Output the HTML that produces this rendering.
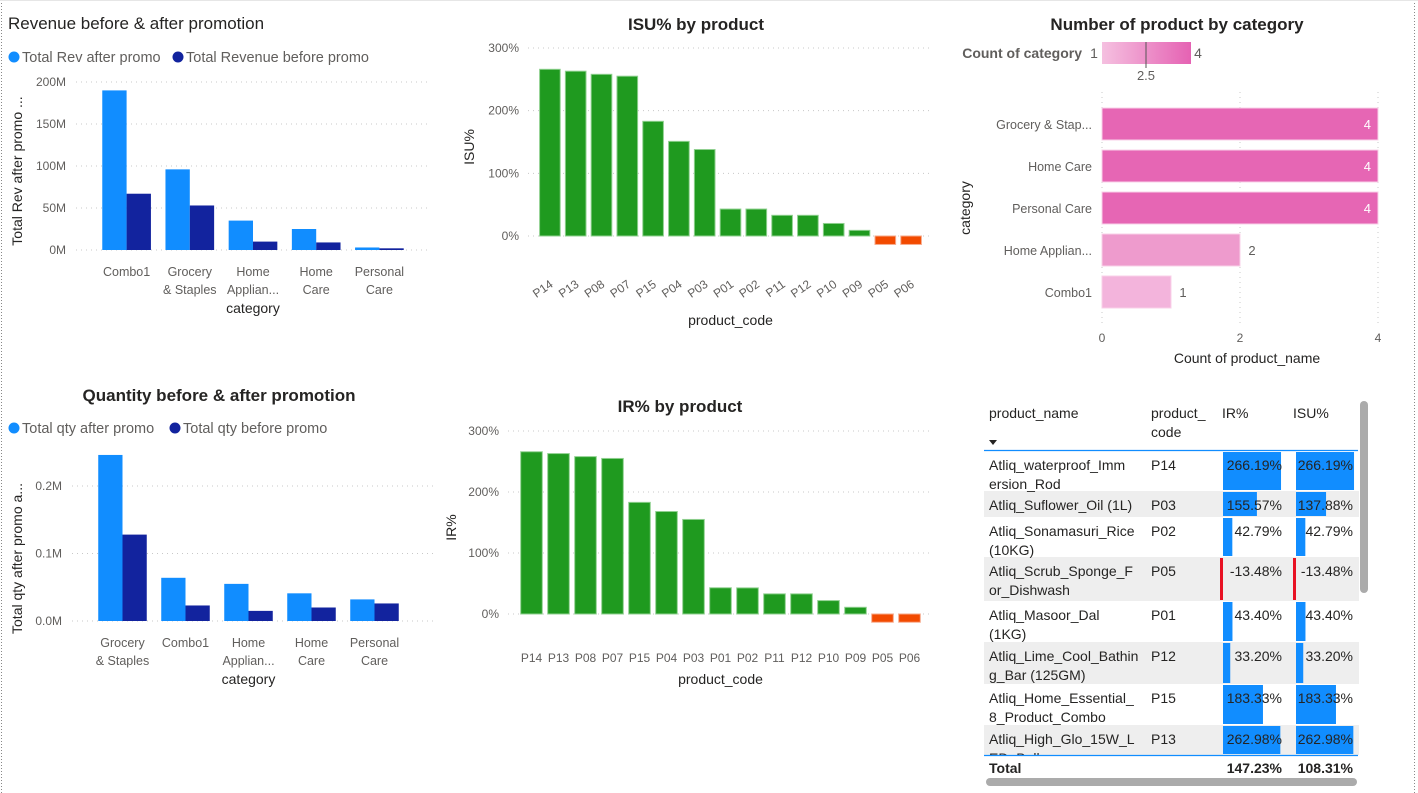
<!DOCTYPE html>
<html><head><meta charset="utf-8">
<style>
html,body{margin:0;padding:0;background:#fff;}
svg{display:block;font-family:"Liberation Sans",sans-serif;}
</style></head>
<body>
<svg id="s" width="1418" height="793" viewBox="0 0 1418 793" xmlns="http://www.w3.org/2000/svg">
<rect x="0" y="0" width="1418" height="793" fill="#fff"/>
<line x1="1.5" y1="0" x2="1.5" y2="793" stroke="#888" stroke-dasharray="1,2"/>
<line x1="1414.5" y1="0" x2="1414.5" y2="793" stroke="#888" stroke-dasharray="1,2"/>
<line x1="0" y1="0.5" x2="1418" y2="0.5" stroke="#e6e6e6"/>
<g id="g"></g>
</svg>
<script>
// ---- data ----
const revCats = ["Combo1","Grocery|& Staples","Home|Applian...","Home|Care","Personal|Care"];
const revAfter = [190, 96, 35, 25, 3];
const revBefore = [67, 53, 10, 9, 2];
const revTicks = [0,50,100,150,200];

const qtyCats = ["Grocery|& Staples","Combo1","Home|Applian...","Home|Care","Personal|Care"];
const qtyAfter = [0.246, 0.064, 0.055, 0.041, 0.032];
const qtyBefore = [0.128, 0.023, 0.015, 0.020, 0.026];
const qtyTicks = [0, 0.1, 0.2];

const isuCodes = ["P14","P13","P08","P07","P15","P04","P03","P01","P02","P11","P12","P10","P09","P05","P06"];
const isuVals = [266, 263, 258, 255, 183, 151, 138, 43, 43, 33, 33, 20, 9, -13.5, -13.5];
const irCodes = ["P14","P13","P08","P07","P15","P04","P03","P01","P02","P11","P12","P10","P09","P05","P06"];
const irVals = [266, 263, 258, 255, 183, 168, 155, 43, 42.8, 33, 33, 22, 11, -13.5, -13.5];
const pctTicks = [0,100,200,300];

const cntCats = ["Grocery & Stap...","Home Care","Personal Care","Home Applian...","Combo1"];
const cntVals = [4,4,4,2,1];
const cntTicks = [0,2,4];

const tblNames = [["Atliq_waterproof_Imm","ersion_Rod"],["Atliq_Suflower_Oil (1L)"],["Atliq_Sonamasuri_Rice","(10KG)"],["Atliq_Scrub_Sponge_F","or_Dishwash"],["Atliq_Masoor_Dal","(1KG)"],["Atliq_Lime_Cool_Bathin","g_Bar (125GM)"],["Atliq_Home_Essential_","8_Product_Combo"],["Atliq_High_Glo_15W_L","ED_Bulb"]];
const tblCodes = ["P14","P03","P02","P05","P01","P12","P15","P13"];
const tblIR = [266.19, 155.57, 42.79, -13.48, 43.40, 33.20, 183.33, 262.98];
const tblISU = [266.19, 137.88, 42.79, -13.48, 43.40, 33.20, 183.33, 262.98];
const tblTotals = ["147.23%","108.31%"];

// ---- helpers ----
const NS="http://www.w3.org/2000/svg";
const G=document.getElementById('g');
function mk(tag,attrs,parent){const e=document.createElementNS(NS,tag);for(const k in attrs)e.setAttribute(k,attrs[k]);(parent||G).appendChild(e);return e;}
function txt(x,y,s,size,fill,anchor,weight,parent){const t=mk('text',{x:x,y:y,'font-size':size,fill:fill,'text-anchor':anchor||'start','font-weight':weight||'normal'},parent);t.textContent=s;return t;}
function grid(x1,x2,y,parent){mk('line',{x1:x1,x2:x2,y1:y,y2:y,stroke:'#c8c8c8','stroke-dasharray':'1,4'},parent);}

// ---- clustered column chart ----
function clustered(o){
  const g=mk('g',{});
  
  
  const y=v=>o.y0-(v/o.max)*(o.y0-o.yTop);
  let t=txt(o.titleX,o.titleY,o.title,17,'#252423',o.titleAnchor||'start',o.titleWeight||'normal',g);
  
  let lx=o.legX;
  o.legend.forEach((l,i)=>{
    const c=mk('circle',{cx:lx+6,cy:o.legY-5,r:5.5,fill:l.c},g);
    
    const tt=txt(lx+14,o.legY,l.t,14.5,'#605e5c','start','normal',g);
    
    lx+=14+l.w;
  });
  o.ticks.forEach((v,i)=>{grid(o.gx0,o.gx1,y(v),g);const tl=txt(o.gx0-10,y(v)+4,o.tickLabels[i],12,'#605e5c','end','normal',g);});
  const step=(o.x1-o.x0)/o.cats.length;
  const bw=step*0.385;
  o.cats.forEach((c,i)=>{
    const cx=o.x0+step*(i+0.5);
    const b1=mk('rect',{x:cx-bw,y:y(o.a[i]),width:bw,height:o.y0-y(o.a[i]),fill:'#118dff'},g);
    
    const b2=mk('rect',{x:cx,y:y(o.b[i]),width:bw,height:o.y0-y(o.b[i]),fill:'#12239e'},g);
    
    c.split('|').forEach((ln,j)=>{const tl=txt(cx,o.y0+26+j*18,ln,12.5,'#605e5c','middle','normal',g);});
  });
  const xt=txt((o.x0+o.x1)/2,o.y0+63,'category',14,'#252423','middle','normal',g);
  
  const yt=txt(0,0,o.yTitle,14,'#252423','middle','normal',g);
  yt.setAttribute('transform','translate('+(o.yTitleX)+','+((o.yTop+o.y0)/2+5)+') rotate(-90)');
  
}
clustered({name:'revenue-chart',title:'Revenue before & after promotion',titleX:8,titleY:29,
  legX:8,legY:62,legend:[{t:'Total Rev after promo',c:'#118dff',w:150},{t:'Total Revenue before promo',c:'#12239e',w:190}],
  cats:revCats,a:revAfter,b:revBefore,max:200,ticks:revTicks,tickLabels:revTicks.map(v=>v+'M'),
  x0:95,x1:411,gx0:76,gx1:431,y0:250,yTop:82,yTitle:'Total Rev after promo ...',yTitleX:22});
clustered({name:'quantity-chart',title:'Quantity before & after promotion',titleX:219,titleY:401,titleAnchor:'middle',titleWeight:'bold',
  legX:8,legY:433,legend:[{t:'Total qty after promo',c:'#118dff',w:147},{t:'Total qty before promo',c:'#12239e',w:160}],
  cats:qtyCats,a:qtyAfter,b:qtyBefore,max:0.2,ticks:qtyTicks,tickLabels:['0.0M','0.1M','0.2M'],
  x0:91,x1:406,gx0:72,gx1:434,y0:621,yTop:486,yTitle:'Total qty after promo a...',yTitleX:22});

// ---- percent column chart ----
function pctChart(o){
  const g=mk('g',{});
  
  
  const y=v=>o.y0-(v/300)*(o.y0-o.yTop);
  const t=txt(o.titleX,o.titleY,o.title,17,'#252423','middle','bold',g);
  
  pctTicks.forEach(v=>{grid(o.gx0,o.gx1,y(v),g);const tl=txt(o.gx0-9,y(v)+4,v+'%',12,'#605e5c','end','normal',g);});
  const step=(o.x1-o.x0)/o.codes.length;
  const bw=step*0.8;
  o.codes.forEach((c,i)=>{
    const v=o.vals[i];const cx=o.x0+step*(i+0.5);
    const top=Math.min(y(v),o.y0),h=Math.abs(y(v)-o.y0);
    const b=mk('rect',{x:cx-bw/2,y:top,width:bw,height:h,fill:v<0?'#f24a00':'#1f9a1f',stroke:v<0?'#f7a98a':'#8fd08f','stroke-width':1},g);
    
    let tl;
    if(o.rot){tl=txt(0,0,c,12,'#605e5c','end','normal',g);tl.setAttribute('transform','translate('+(cx+4)+','+(o.y0+50)+') rotate(-35)');}
    else tl=txt(cx,o.y0+48,c,12,'#605e5c','middle','normal',g);
    
  });
  const xt=txt((o.x0+o.x1)/2,o.xTitleY,'product_code',14,'#252423','middle','normal',g);
  
  const yt=txt(0,0,o.yTitle,14,'#252423','middle','normal',g);
  yt.setAttribute('transform','translate('+o.yTitleX+','+((o.yTop+o.y0)/2+5)+') rotate(-90)');
  
}
pctChart({name:'isu-chart',title:'ISU% by product',titleX:696,titleY:30,codes:isuCodes,vals:isuVals,
  x0:537,x1:924,y0:236,yTop:48,gx0:528,gx1:930,rot:true,xTitleY:325,yTitle:'ISU%',yTitleX:474});
pctChart({name:'ir-chart',title:'IR% by product',titleX:680,titleY:412,codes:irCodes,vals:irVals,
  x0:518,x1:923,y0:614,yTop:431,gx0:508,gx1:930,rot:false,xTitleY:684,yTitle:'IR%',yTitleX:456});

// ---- count bar chart ----
(function(){
  const g=mk('g',{});
  
  
  const x0=1102,x1=1378;const x=v=>x0+(v/4)*(x1-x0);
  const t=txt(1177,30,'Number of product by category',17,'#252423','middle','bold',g);
  
  const d=mk('defs',{},g);const lg=mk('linearGradient',{id:'pg',x1:0,x2:1,y1:0,y2:0},d);
  mk('stop',{offset:0,'stop-color':'#f5c0e0'},lg);mk('stop',{offset:1,'stop-color':'#e562b3'},lg);
  let tt=txt(1082,58,'Count of category',14,'#605e5c','end','bold',g);
  tt=txt(1094,58,'1',14,'#605e5c','middle','normal',g);
  const r=mk('rect',{x:1102,y:42,width:89,height:22,fill:'url(#pg)'},g);
  mk('line',{x1:1146,x2:1146,y1:42,y2:68,stroke:'#555','stroke-width':1},g);
  tt=txt(1198,58,'4',14,'#605e5c','middle','normal',g);
  tt=txt(1146,80,'2.5',13,'#605e5c','middle','normal',g);
  cntTicks.forEach(v=>{mk('line',{x1:x(v),x2:x(v),y1:92,y2:325,stroke:'#c8c8c8','stroke-dasharray':'1,4'},g);const tl=txt(x(v),342,String(v),12,'#605e5c','middle','normal',g);});
  const cols={4:'#e666b4',2:'#ee9bcd',1:'#f3b4dc'};
  cntCats.forEach((c,i)=>{
    const cy=124+i*42;const v=cntVals[i];
    const b=mk('rect',{x:x0,y:cy-16,width:x(v)-x0,height:32,fill:cols[v]||'#ee9bcd',stroke:'#f8d0e8','stroke-width':1},g);
    
    const l=txt(x0-10,cy+5,c,12.5,'#605e5c','end','normal',g);
    let vl;
    if(v>=4) vl=txt(x(v)-7,cy+5,String(v),13,'#fff','end','normal',g);
    else vl=txt(x(v)+12,cy+5,String(v),13,'#605e5c','middle','normal',g);
    
  });
  let yt=txt(0,0,'category',14,'#252423','middle','normal',g);yt.setAttribute('transform','translate(970,208) rotate(-90)');
  yt=txt(1247,363,'Count of product_name',14,'#252423','middle','normal',g);
})();

// ---- table ----
(function(){
  const g=mk('g',{});
  
  
  const rowTops=[451,491,517,557,601,642,684,725,755];
  const sx=0.218;
  const hd=[['product_name',989,418],['product_',1151,418],['code',1151,437],['IR%',1222,418],['ISU%',1293,418]];
  hd.forEach(h=>{const t=txt(h[1],h[2],h[0],14,'#252423','start','normal',g);});
  mk('path',{d:'M989 440 L997 440 L993 445 Z',fill:'#252423'},g);
  const clip=mk('clipPath',{id:'tc'},g);mk('rect',{x:984,y:450,width:375,height:305},clip);
  const body=mk('g',{'clip-path':'url(#tc)'},g);
  const bg=mk('g',{},body);
  const fg=mk('g',{},body);
  tblNames.forEach((nm,i)=>{
    const top=rowTops[i],bot=rowTops[i+1]||790;
    const r=mk('rect',{x:984,y:top,width:375,height:bot-top,fill:i%2?'#eeeeee':'#fff'},bg);
    
    [[tblIR[i],1223,1282],[tblISU[i],1296,1353]].forEach((p,k)=>{
      const v=p[0];
      let b;
      if(v>=0) b=mk('rect',{x:p[1],y:top+1,width:v*sx,height:bot-top-2,fill:'#118dff'},bg);
      else b=mk('rect',{x:p[1]-3,y:top+1,width:3,height:bot-top-2,fill:'#e81123'},bg);
      
      const t=txt(p[2],top+19,v.toFixed(2)+'%',14,'#252423','end','normal',fg);
    });
    nm.forEach((ln,j)=>{const t=txt(989,top+19+j*19,ln,14,'#252423','start','normal',fg);});
    const c=txt(1151,top+19,tblCodes[i],14,'#252423','start','normal',fg);
  });
  mk('rect',{x:984,y:756,width:375,height:30,fill:'#fff'},g);
  mk('line',{x1:984,x2:1358,y1:450.5,y2:450.5,stroke:'#118dff','stroke-width':1.2},g);
  mk('line',{x1:984,x2:1358,y1:755.5,y2:755.5,stroke:'#118dff','stroke-width':1.2},g);
  let t=txt(989,773,'Total',14,'#252423','start','bold',g);
  t=txt(1282,773,tblTotals[0],14,'#252423','end','bold',g);
  t=txt(1353,773,tblTotals[1],14,'#252423','end','bold',g);
  let s=mk('rect',{x:1360,y:401,width:8,height:192,rx:4,fill:'#ababab'},g);
  s=mk('rect',{x:986,y:778,width:371,height:8,rx:4,fill:'#ababab'},g);
})();
</script>
</body></html>
